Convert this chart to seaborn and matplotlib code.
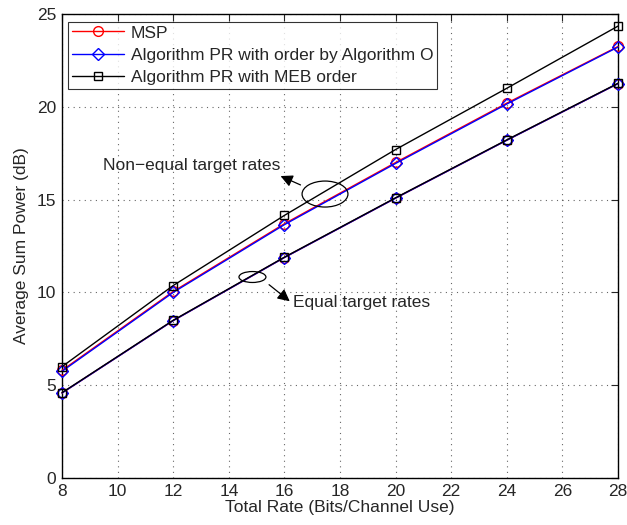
import pandas as pd
import seaborn as sns
import matplotlib.pyplot as plt
from matplotlib.patches import Ellipse

# total rate (bits/channel use)
rates = [8, 12, 16, 20, 24, 28]

# non-equal target rates
msp_neq = [5.8, 10.05, 13.7, 17.0, 20.2, 23.25]
pro_neq = [5.75, 10.0, 13.65, 16.95, 20.15, 23.22]
meb_neq = [6.0, 10.37, 14.15, 17.7, 21.0, 24.35]

# equal target rates
msp_eq = [4.58, 8.48, 11.88, 15.08, 18.2, 21.25]
pro_eq = [4.58, 8.48, 11.88, 15.08, 18.2, 21.25]
meb_eq = [4.6, 8.5, 11.9, 15.1, 18.22, 21.27]

labels = ['MSP', 'Algorithm PR with order by Algorithm O', 'Algorithm PR with MEB order']
colors = ['red', 'blue', 'black']
markers = ['o', 'D', 's']
msizes = [7, 6, 6]

sns.set_style('white')
plt.rcParams['font.family'] = ['Liberation Sans', 'DejaVu Sans']
fs = 12.5

fig = plt.figure(figsize=(6.27, 5.25), dpi=100)
ax = fig.add_axes([0.0989, 0.0895, 0.8868, 0.8838])

groups = [(msp_neq, msp_eq), (pro_neq, pro_eq), (meb_neq, meb_eq)]
for i, (neq, eq) in enumerate(groups):
    for j, vals in enumerate([neq, eq]):
        df = pd.DataFrame({'rate': rates, 'power': vals})
        sns.lineplot(data=df, x='rate', y='power', ax=ax, color=colors[i],
                     marker=markers[i], markersize=msizes[i], markerfacecolor='none',
                     markeredgecolor=colors[i], markeredgewidth=1.0, linewidth=1.0,
                     label=labels[i] if j == 0 else None, clip_on=False, zorder=3)

ax.set_xlim(8, 28)
ax.set_ylim(0, 25)
ax.set_xticks(range(8, 29, 2))
ax.set_yticks(range(0, 26, 5))
ax.grid(True, linestyle=(0, (1, 4)), color='black', linewidth=0.8, alpha=0.6)
ax.tick_params(direction='in', top=True, right=True, labelsize=fs, length=5, width=0.8, pad=4)
for s in ax.spines.values():
    s.set_color('black')
    s.set_linewidth(1.0)
ax.set_xlabel('Total Rate (Bits/Channel Use)', fontsize=fs, labelpad=1)
ax.set_ylabel('Average Sum Power (dB)', fontsize=fs, labelpad=6)

leg = ax.legend(loc='upper left', bbox_to_anchor=(0.011, 0.983), borderaxespad=0,
                fontsize=fs, frameon=True, fancybox=False, handlelength=3.0,
                borderpad=0.2, labelspacing=0.42, handletextpad=0.4)
leg.get_frame().set_edgecolor('black')
leg.get_frame().set_linewidth(0.8)

# annotations
ax.add_patch(Ellipse((17.46, 15.3), 1.65, 1.4, fill=False, edgecolor='black', linewidth=0.9, zorder=4))
ax.annotate('', xy=(15.77, 16.33), xytext=(16.67, 15.73),
            arrowprops=dict(arrowstyle='-|>', color='black', lw=0.9, mutation_scale=18))
ax.text(9.47, 16.86, 'Non\u2212equal target rates', fontsize=fs, va='center', ha='left')

ax.add_patch(Ellipse((14.85, 10.83), 0.97, 0.59, fill=False, edgecolor='black', linewidth=0.9, zorder=4))
ax.annotate('', xy=(16.27, 9.43), xytext=(15.37, 10.51),
            arrowprops=dict(arrowstyle='-|>', color='black', lw=0.9, mutation_scale=18))
ax.text(16.31, 9.48, 'Equal target rates', fontsize=fs, va='center', ha='left')

fig.savefig('out.png', dpi=100)
